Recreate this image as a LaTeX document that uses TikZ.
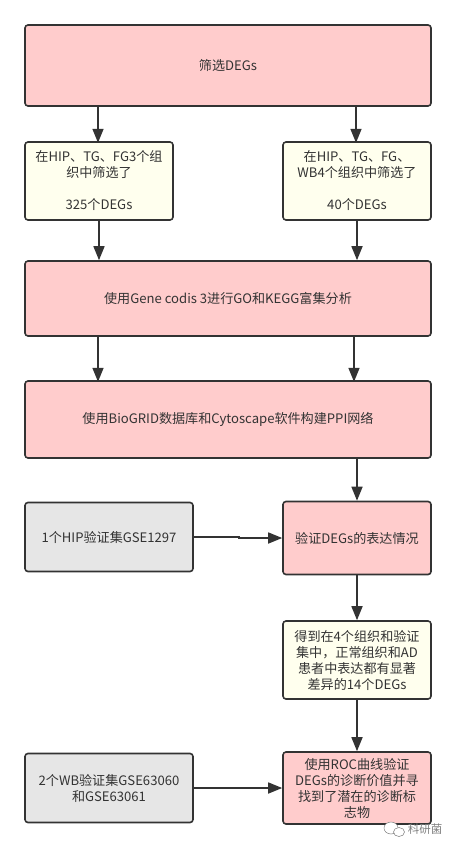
\documentclass[tikz,border=0pt]{standalone}
\usepackage{xcolor}
\usepackage{fontspec}
\setmainfont{Noto Sans CJK SC}
\usepackage{tikz}
\usetikzlibrary{arrows.meta}
\definecolor{boxline}{HTML}{333333}
\definecolor{pinkfill}{HTML}{FFCCCC}
\definecolor{creamfill}{HTML}{FFFFEE}
\definecolor{grayfill}{HTML}{E6E6E6}
\tikzset{
  box/.style={draw=boxline,line width=1.6pt,rounded corners=3pt,align=center,
    text=boxline,inner sep=0pt,font=\fontsize{13.1}{16}\selectfont},
  pinkbox/.style={box,fill=pinkfill},
  creambox/.style={box,fill=creamfill},
  graybox/.style={box,fill=grayfill},
  flow/.style={draw=boxline,line width=1.6pt,-{Triangle[length=14pt,width=11pt]}}
}

\begin{document}
\begin{tikzpicture}[x=1pt,y=-1pt]
\useasboundingbox (0,0) rectangle (456,850);
\node[pinkbox,minimum width=406pt,minimum height=81pt] (screen) at (228,65.5) {筛选DEGs};
\node[creambox,minimum width=148pt,minimum height=78pt] (three) at (99,181) {在HIP、TG、FG3个组\\织中筛选了\\\\325个DEGs};
\node[creambox,minimum width=148pt,minimum height=78pt] (four) at (357,181) {在HIP、TG、FG、\\WB4个组织中筛选了\\\\40个DEGs};
\node[pinkbox,minimum width=406pt,minimum height=75pt] (enrich) at (228,298.5) {使用Gene codis 3进行GO和KEGG富集分析};
\node[pinkbox,minimum width=406pt,minimum height=77pt] (ppi) at (228,419.5) {使用BioGRID数据库和Cytoscape软件构建PPI网络};
\node[graybox,minimum width=168pt,minimum height=69pt] (hip) at (109,537) {1个HIP验证集GSE1297};
\node[pinkbox,minimum width=148pt,minimum height=73pt] (verify) at (357,538) {验证DEGs的表达情况};
\node[creambox,minimum width=148pt,minimum height=78pt] (result) at (357,660) {得到在4个组织和验证\\集中，正常组织和AD\\患者中表达都有显著\\差异的14个DEGs};
\node[graybox,minimum width=168pt,minimum height=69pt] (wb) at (109,788) {2个WB验证集GSE63060\\和GSE63061};
\node[pinkbox,minimum width=148pt,minimum height=72pt] (roc) at (357,788) {使用ROC曲线验证\\DEGs的诊断价值并寻\\找到了潜在的诊断标\\志物};

\draw[flow] (screen.south -| three) ++(-1,0) -- ++(0,36);
\draw[flow] (screen.south -| four) ++(-1,0) -- ++(0,36);
\draw[flow] (three.south) -- (enrich.north -| three);
\draw[flow] (four.south) -- (enrich.north -| four);
\draw[flow] (enrich.south -| three) ++(-1,0) -- ++(0,45);
\draw[flow] (enrich.south -| four) ++(-3,0) -- ++(0,45);
\draw[flow] (ppi.south -| verify) -- (verify.north);
\draw[flow] (hip.east) -- ++(45,0) |- (verify.west);
\draw[flow] (verify.south) -- (result.north);
\draw[flow] (result.south) -- (roc.north);
\draw[flow] (wb.east) -- (roc.west);

\draw[gray,fill=white,line width=0.5pt] (391,828) ellipse (7pt and 6pt);
\draw[gray,fill=white,line width=0.5pt] (399,832) ellipse (5.5pt and 4.5pt);
\node[text=gray,font=\fontsize{11.5}{12}\selectfont,inner sep=0pt] (mark) at (425,829) {科研菌};
\end{tikzpicture}
\end{document}
